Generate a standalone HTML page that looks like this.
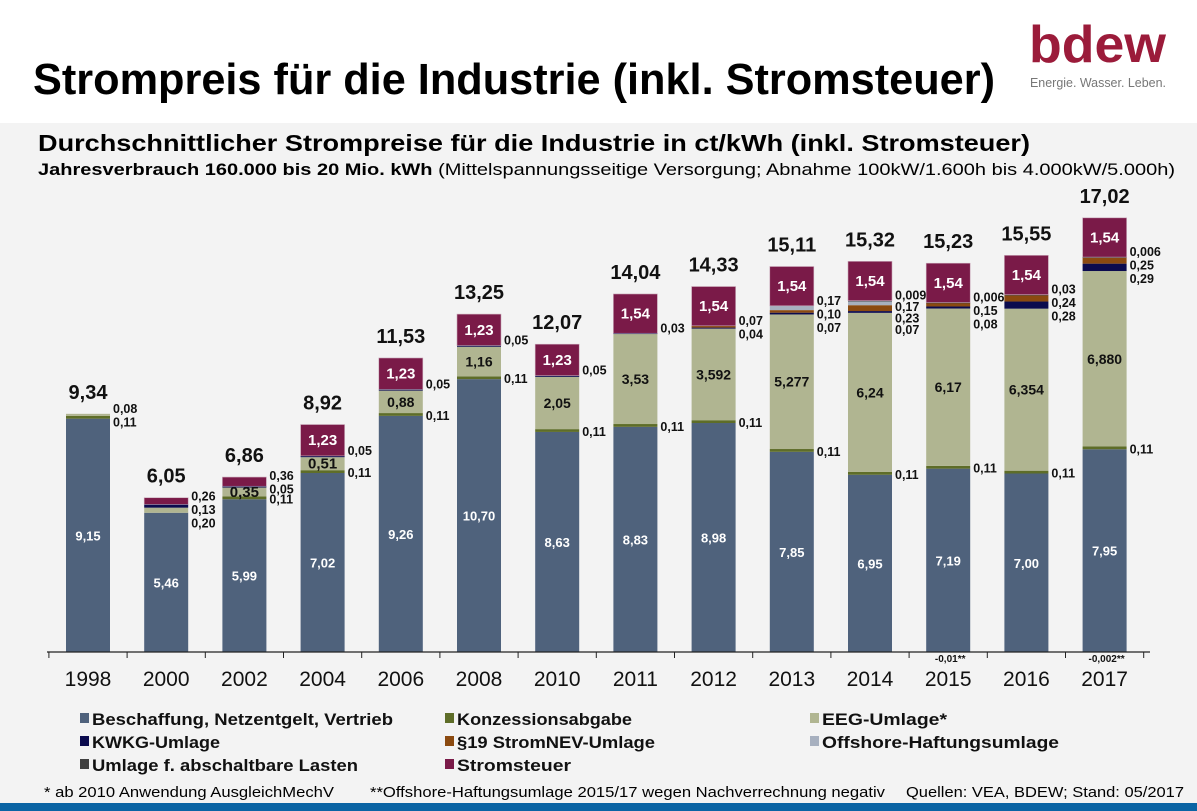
<!DOCTYPE html>
<html><head><meta charset="utf-8"><style>
html,body{margin:0;padding:0;background:#fff}
svg{display:block;font-family:"Liberation Sans",sans-serif}
</style></head><body>
<svg id="c" width="1197" height="811" viewBox="0 0 1197 811" xmlns="http://www.w3.org/2000/svg">
<rect x="0" y="0" width="1197" height="123" fill="#ffffff"/>
<rect x="0" y="123" width="1197" height="688" fill="#f3f3f3"/>
<rect x="0" y="803" width="1197" height="8" fill="#0a64a4"/>
<text x="33" y="94" font-size="44" font-weight="bold" textLength="962" lengthAdjust="spacingAndGlyphs">Strompreis für die Industrie (inkl. Stromsteuer)</text>
<text x="1029" y="62" font-size="52" font-weight="bold" fill="#9b1b3a" textLength="137" lengthAdjust="spacingAndGlyphs">bdew</text>
<text x="1030" y="87" font-size="13" fill="#777" textLength="136" lengthAdjust="spacingAndGlyphs">Energie. Wasser. Leben.</text>
<text x="38" y="151" font-size="23" font-weight="bold" textLength="992" lengthAdjust="spacingAndGlyphs">Durchschnittlicher Strompreise für die Industrie in ct/kWh (inkl. Stromsteuer)</text>
<text x="38" y="175" font-size="17" textLength="1137" lengthAdjust="spacingAndGlyphs"><tspan font-weight="bold">Jahresverbrauch 160.000 bis 20 Mio. kWh</tspan> (Mittelspannungsseitige Versorgung; Abnahme 100kW/1.600h bis 4.000kW/5.000h)</text>
<g id="plot"></g>
<g id="legend"></g>
<text x="44" y="797" font-size="15" textLength="290" lengthAdjust="spacingAndGlyphs">* ab 2010 Anwendung AusgleichMechV</text>
<text x="370" y="797" font-size="15" textLength="515" lengthAdjust="spacingAndGlyphs">**Offshore-Haftungsumlage 2015/17 wegen Nachverrechnung negativ</text>
<text x="906" y="797" font-size="15" textLength="278" lengthAdjust="spacingAndGlyphs">Quellen: VEA, BDEW; Stand: 05/2017</text>
</svg>
<script>
const years = ["1998","2000","2002","2004","2006","2008","2010","2011","2012","2013","2014","2015","2016","2017"];
const totals = ["9,34","6,05","6,86","8,92","11,53","13,25","12,07","14,04","14,33","15,11","15,32","15,23","15,55","17,02"];
const beschaffung = [9.15,5.46,5.99,7.02,9.26,10.70,8.63,8.83,8.98,7.85,6.95,7.19,7.00,7.95];
const konzession = [0.11,0,0.11,0.11,0.11,0.11,0.11,0.11,0.11,0.11,0.11,0.11,0.11,0.11];
const eeg = [0.08,0.20,0.35,0.51,0.88,1.16,2.05,3.53,3.592,5.277,6.24,6.17,6.354,6.880];
const kwkg = [0,0.13,0.05,0.05,0.05,0.05,0.05,0.03,0.04,0.07,0.07,0.08,0.28,0.29];
const nev = [0,0,0,0,0,0,0,0,0.07,0.10,0.23,0.15,0.24,0.25];
const offshore = [0,0,0,0,0,0,0,0,0,0.17,0.17,-0.01,0,-0.002];
const abschalt = [0,0,0,0,0,0,0,0,0,0,0.009,0.006,0.03,0.006];
const stromsteuer = [0,0.26,0.36,1.23,1.23,1.23,1.23,1.54,1.54,1.54,1.54,1.54,1.54,1.54];
const labels = {
  beschaffung:["9,15","5,46","5,99","7,02","9,26","10,70","8,63","8,83","8,98","7,85","6,95","7,19","7,00","7,95"],
  konzession:["0,11","","0,11","0,11","0,11","0,11","0,11","0,11","0,11","0,11","0,11","0,11","0,11","0,11"],
  eeg:["0,08","0,20","0,35","0,51","0,88","1,16","2,05","3,53","3,592","5,277","6,24","6,17","6,354","6,880"],
  kwkg:["","0,13","0,05","0,05","0,05","0,05","0,05","0,03","0,04","0,07","0,07","0,08","0,28","0,29"],
  nev:["","","","","","","","","0,07","0,10","0,23","0,15","0,24","0,25"],
  offshore:["","","","","","","","","","0,17","0,17","-0,01**","","-0,002**"],
  abschalt:["","","","","","","","","","","0,009","0,006","0,03","0,006"],
  stromsteuer:["","0,26","0,36","1,23","1,23","1,23","1,23","1,54","1,54","1,54","1,54","1,54","1,54","1,54"]
};
const seriesNames = ["Beschaffung, Netzentgelt, Vertrieb","Konzessionsabgabe","EEG-Umlage*","KWKG-Umlage","§19 StromNEV-Umlage","Offshore-Haftungsumlage","Umlage f. abschaltbare Lasten","Stromsteuer"];

const NS="http://www.w3.org/2000/svg";
const keys=["beschaffung","konzession","eeg","kwkg","nev","offshore","abschalt","stromsteuer"];
const vals=[beschaffung,konzession,eeg,kwkg,nev,offshore,abschalt,stromsteuer];
const colors=["#4f627c","#5e6d28","#b0b591","#0b0b4e","#8b4a10","#a7b0bf","#404040","#7a1a48"];
const base=652, k=25.5, x0=88, step=78.2, bw=44;
const yS=v=>base-v*k;
const xS=i=>x0+i*step;
const plot=document.getElementById('plot');
function mk(tag,attrs,parent,txt){const e=document.createElementNS(NS,tag);for(const a in attrs)e.setAttribute(a,attrs[a]);if(txt!==undefined)e.textContent=txt;parent.appendChild(e);return e;}

years.forEach((yr,i)=>{
  const cx=xS(i), x=cx-bw/2;
  let cum=0; const segTop=[], segBot=[];
  vals.forEach((arr,s)=>{
    const v=arr[i];
    if(v<=0){segTop.push(null);segBot.push(null);return;}
    const r=mk('rect',{x:x,y:yS(cum+v),width:bw,height:Math.max(v*k,0.8),fill:colors[s],stroke:s===7?'#c9a7b8':'none','stroke-width':0.6},plot);
    
    
    segBot.push(cum); cum+=v; segTop.push(cum);
  });
  const inside=[];
  inside.push([0,'#fff',13]);
  if(eeg[i]>=0.3) inside.push([2,'#111',eeg[i]<0.6?15:14]);
  if(stromsteuer[i]>=1) inside.push([7,'#fff',15]);
  inside.forEach(([s,col,fs])=>{
    const mid=yS((segBot[s]+segTop[s])/2);
    const t=mk('text',{x:cx,y:mid+5,'text-anchor':'middle','font-size':fs,'font-weight':'bold',fill:col},plot,labels[keys[s]][i]);
    
    
  });
  const eegIn=eeg[i]>=0.3, strIn=stromsteuer[i]>=1;
  const stack=[];
  if(!strIn&&stromsteuer[i]>0) stack.push(7);
  [6,5,4,3].forEach(s=>{if(vals[s][i]>0) stack.push(s);});
  if(!eegIn&&eeg[i]>0) stack.push(2);
  const konzSeparate = eegIn;
  if(!konzSeparate&&konzession[i]>0) stack.push(1);
  if(stack.length){
    const sp = stack.length>=4?11.5:13.5;
    const topY=yS(segTop[stack[0]])-6+ (stack[0]===7?4:0);
    stack.forEach((s,j)=>{
      const t=mk('text',{x:x+bw+3,y:topY+j*sp+5,'font-size':12.5,'font-weight':'bold',fill:'#111'},plot,labels[keys[s]][i]);
      
      
    });
  }
  if(konzSeparate&&konzession[i]>0){
    const t=mk('text',{x:x+bw+3,y:yS(segBot[1])+4,'font-size':12.5,'font-weight':'bold',fill:'#111'},plot,labels.konzession[i]);
    
    
  }
  if(offshore[i]<0){
    const t=mk('text',{x:cx+2,y:base+10,'text-anchor':'middle','font-size':10,'font-weight':'bold',fill:'#111'},plot,labels.offshore[i]);
    
    
  }
  let tot=0; vals.forEach(a=>tot+=Math.max(a[i],0));
  const tt=mk('text',{x:cx,y:yS(tot)-15,'text-anchor':'middle','font-size':20,'font-weight':'bold',fill:'#111'},plot,totals[i]);
  
  
  const yl=mk('text',{x:cx,y:686,'text-anchor':'middle','font-size':21,fill:'#111'},plot,yr);
  
  
});
const ax=mk('line',{x1:47,y1:base,x2:1150,y2:base,stroke:'#222','stroke-width':1.3},plot);


for(let j=0;j<=years.length;j++){
  const tx=xS(j)-step/2;
  const tk=mk('line',{x1:tx,y1:base,x2:tx,y2:base+6,stroke:'#222','stroke-width':1},plot);
  
  
}
const lg=document.getElementById('legend');
const lx=[80,445,810], ly=[725,748,771];
const lw=[301,175,125,128,198,237,266,114];
seriesNames.forEach((n,s)=>{
  const cx=lx[s%3], cy=ly[Math.floor(s/3)];
  const g=mk('g',{},lg);
  
  
  mk('rect',{x:cx,y:cy-12,width:9,height:10,fill:colors[s]},g);
  mk('text',{x:cx+12,y:cy,'font-size':17,'font-weight':'bold',fill:'#111',textLength:lw[s],lengthAdjust:'spacingAndGlyphs'},g,n);
});
</script>
</body></html>
